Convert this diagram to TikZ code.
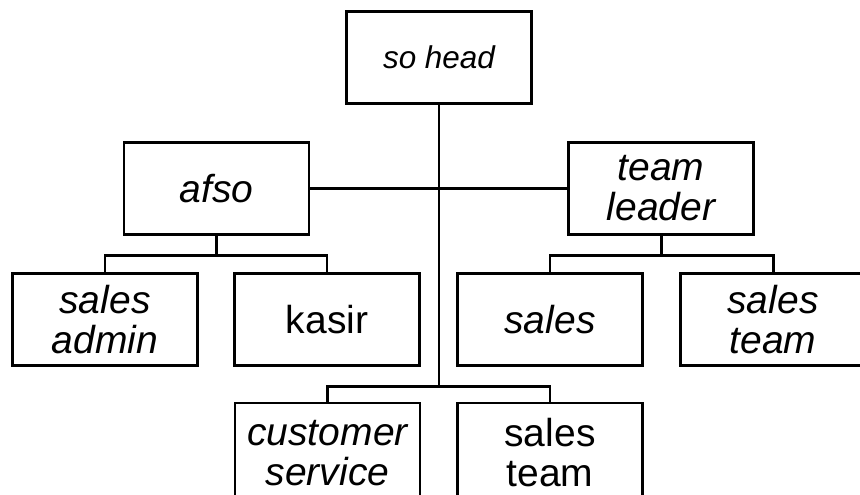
\documentclass[tikz,border=0pt]{standalone}
\usepackage{fontspec}
\setmainfont{Liberation Sans}
\usetikzlibrary{positioning,calc}

\begin{document}
\begin{tikzpicture}[
  font=\fontsize{22.2}{22.8}\selectfont,
  line width=1.7pt,
  box/.style={draw, line width=1.7pt, minimum width=3.7cm, minimum height=1.84cm,
    inner sep=2pt, align=center},
  itbox/.style={box, font=\fontsize{22.2}{22.8}\selectfont\itshape}
]
\useasboundingbox (0,0) rectangle (17.2,-9.9);
\clip (0,0) rectangle (17.2,-9.9);

% top of the chart
\node[box, font=\fontsize{17.9}{20}\selectfont\itshape] (head) at (8.78,-1.15) {so head};

% second level
\node[itbox] (afso)   at (4.33,-3.77)  {afso};
\node[itbox] (leader) at (13.22,-3.77) {team\\leader};

% third level
\node[itbox] (admin) at (2.1,-6.39)   {sales\\admin};
\node[box]   (kasir) at (6.54,-6.39)  {kasir};
\node[itbox] (sales) at (11.0,-6.39)  {sales};
\node[itbox] (steam) at (15.46,-6.39) {sales\\team};

% bottom level, runs off the lower edge
\node[itbox, minimum height=2cm] (cs)     at (6.55,-9.06) {customer\\service};
\node[box, minimum height=2cm]   (steamb) at (11.0,-9.06) {sales\\team};

% lines
\draw (afso) -- (leader);

\draw (head.south) -- ++(0,-5.63) coordinate (headbus);
\draw (cs.north) |- (headbus) -| (steamb.north);

\draw (afso.south) -- ++(0,-0.39) coordinate (afsobus);
\draw (admin.north) |- (afsobus) -| (kasir.north);

\draw (leader.south) -- ++(0,-0.39) coordinate (leaderbus);
\draw (sales.north) |- (leaderbus) -| (steam.north);

\end{tikzpicture}
\end{document}
